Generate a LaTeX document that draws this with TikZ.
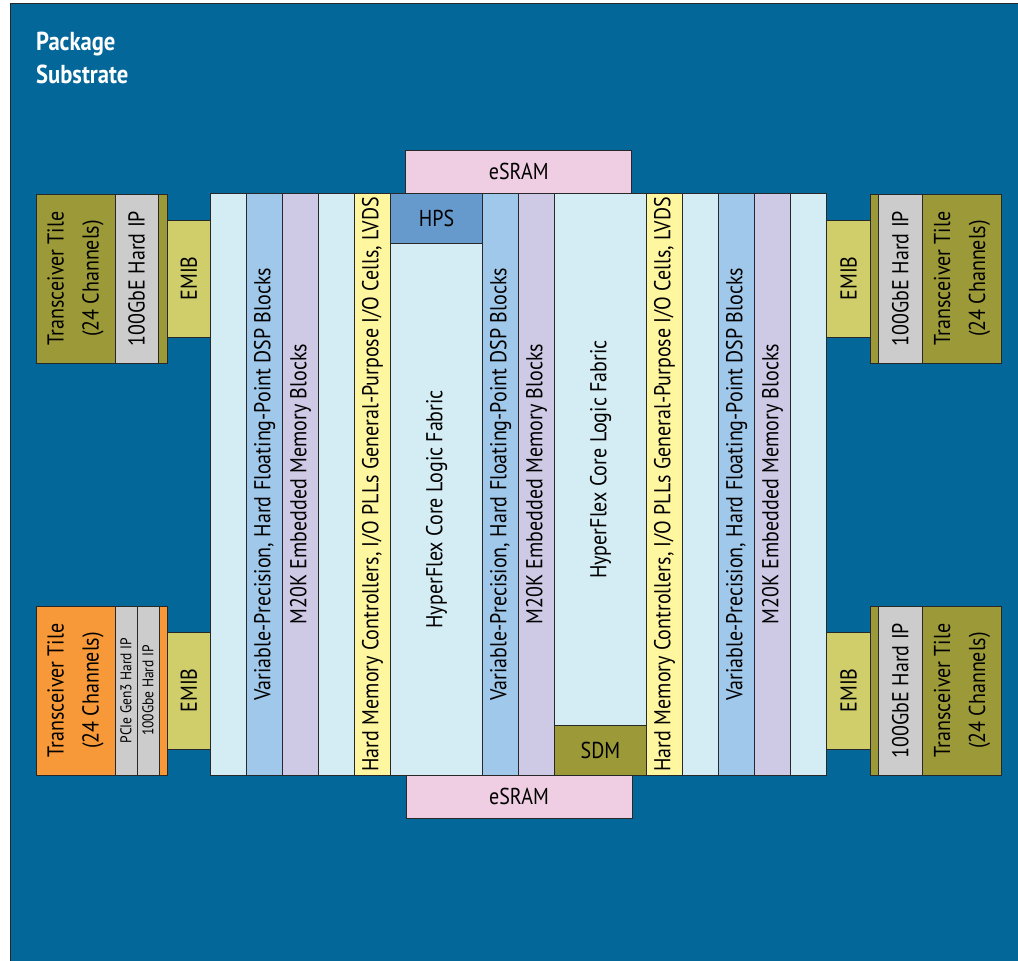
\documentclass[tikz,border=0pt]{standalone}
\usepackage{fontspec}
\setmainfont{PT Sans}[FakeStretch=0.87]
\usetikzlibrary{positioning,calc}
\definecolor{substrate}{RGB}{3,103,153}
\definecolor{edge}{RGB}{40,40,40}
\definecolor{olive}{RGB}{156,154,56}
\definecolor{emibc}{RGB}{207,206,106}
\definecolor{ipgray}{RGB}{204,204,204}
\definecolor{xcvr}{RGB}{247,153,56}
\definecolor{fabric}{RGB}{212,236,243}
\definecolor{dsp}{RGB}{160,200,234}
\definecolor{mem}{RGB}{206,202,230}
\definecolor{gpio}{RGB}{255,246,160}
\definecolor{hpsc}{RGB}{102,153,204}
\definecolor{esram}{RGB}{239,206,227}
\tikzset{
	blk/.style={draw=edge,line width=1pt,inner sep=0pt,outer sep=0pt,anchor=north west},
	col/.style={blk,minimum width=36pt,minimum height=581.5pt},
	wide/.style={col,minimum width=92pt},
	vtext/.style={rotate=90,align=center,inner sep=0pt,font=\fontsize{23}{35}\selectfont},
	htext/.style={inner sep=0pt,font=\fontsize{23}{35}\selectfont},
	tiny/.style={rotate=90,inner sep=0pt,font=\fontsize{15.5}{18}\selectfont},
	title/.style={align=left,inner sep=0pt,text=white,font=\fontsize{26}{33}\selectfont\bfseries}
}
\begin{document}
\begin{tikzpicture}[x=1pt,y=-1pt]
	\clip (0,0) rectangle (1018,961);
	\useasboundingbox (0,0) rectangle (1018,961);
	% substrate
	\node[blk,fill=substrate,minimum width=1030pt,minimum height=980pt] (sub) at (10,3.5) {};
	\node[title,anchor=north west] (pkg) at (36,31.5) {Package\\Substrate};
	% left tiles
	\node[blk,fill=olive,minimum width=131pt,minimum height=169pt] (xcvrA) at (36,194) {};
	\node[blk,fill=ipgray,minimum width=43pt,minimum height=169pt] (ipA) at (115,194) {};
	\node[blk,fill=emibc,minimum width=43.5pt,minimum height=117pt] (emibA) at (167,220) {};
	\node[vtext] (xcvrA-t) at (75.5,278.5) {Transceiver Tile\\(24 Channels)};
	\node[vtext] (ipA-t) at (ipA) {100GbE Hard IP};
	\node[vtext] (emibA-t) at (emibA) {EMIB};
	\node[blk,fill=xcvr,minimum width=131pt,minimum height=169pt] (xcvrB) at (36,606) {};
	\node[blk,fill=ipgray,minimum width=22pt,minimum height=169pt] (pcieB) at (115,606) {};
	\node[blk,fill=ipgray,minimum width=22pt,minimum height=169pt] (ipB) at (137,606) {};
	\node[blk,fill=emibc,minimum width=43.5pt,minimum height=117pt] (emibB) at (167,632) {};
	\node[vtext] (xcvrB-t) at (75.5,690.5) {Transceiver Tile\\(24 Channels)};
	\node[tiny] (pcieB-t) at (pcieB) {PCIe Gen3 Hard IP};
	\node[tiny] (ipB-t) at (ipB) {100Gbe Hard IP};
	\node[vtext] (emibB-t) at (emibB) {EMIB};
	% right tiles
	\node[blk,fill=olive,minimum width=131.5pt,minimum height=169pt] (xcvrC) at (870.3,194) {};
	\node[blk,fill=ipgray,minimum width=44pt,minimum height=169pt] (ipC) at (878.3,194) {};
	\node[blk,fill=emibc,minimum width=43.6pt,minimum height=117pt] (emibC) at (826.7,220) {};
	\node[vtext] (xcvrC-t) at (962,278.5) {Transceiver Tile\\(24 Channels)};
	\node[vtext] (ipC-t) at (ipC) {100GbE Hard IP};
	\node[vtext] (emibC-t) at (emibC) {EMIB};
	\node[blk,fill=olive,minimum width=131.5pt,minimum height=169pt] (xcvrD) at (870.3,606) {};
	\node[blk,fill=ipgray,minimum width=44pt,minimum height=169pt] (ipD) at (878.3,606) {};
	\node[blk,fill=emibc,minimum width=43.6pt,minimum height=117pt] (emibD) at (826.7,632) {};
	\node[vtext] (xcvrD-t) at (962,690.5) {Transceiver Tile\\(24 Channels)};
	\node[vtext] (ipD-t) at (ipD) {100GbE Hard IP};
	\node[vtext] (emibD-t) at (emibD) {EMIB};
	% core fabric columns
	\node[col,fill=fabric] (c1) at (210.5,193.5) {};
	\node[col,fill=dsp,right=0pt of c1] (c2) {};
	\node[col,fill=mem,right=0pt of c2] (c3) {};
	\node[col,fill=fabric,right=0pt of c3] (c4) {};
	\node[col,fill=gpio,right=0pt of c4] (c5) {};
	\node[wide,fill=fabric,right=0pt of c5] (c6) {};
	\node[col,fill=dsp,right=0pt of c6] (c7) {};
	\node[col,fill=mem,right=0pt of c7] (c8) {};
	\node[wide,fill=fabric,right=0pt of c8] (c9) {};
	\node[col,fill=gpio,right=0pt of c9] (c10) {};
	\node[col,fill=fabric,right=0pt of c10] (c11) {};
	\node[col,fill=dsp,right=0pt of c11] (c12) {};
	\node[col,fill=mem,right=0pt of c12] (c13) {};
	\node[col,fill=fabric,right=0pt of c13] (c14) {};
	\node[blk,fill=hpsc,minimum width=92pt,minimum height=50pt] (hps) at (c6.north west) {};
	\node[blk,fill=olive,minimum width=92pt,minimum height=49.3pt,anchor=south west] (sdm) at (c9.south west) {};
	\node[htext] (hps-t) at (hps) {HPS};
	\node[htext] (sdm-t) at (sdm) {SDM};
	\node[vtext] (c2-t) at (c2) {Variable-Precision, Hard Floating-Point DSP Blocks};
	\node[vtext] (c3-t) at (c3) {M20K Embedded Memory Blocks};
	\node[vtext] (c5-t) at (c5) {Hard Memory Controllers, I/O PLLs General-Purpose I/O Cells, LVDS};
	\node[vtext] (c6-t) at ($(hps.south)!.5!(c6.south)$) {HyperFlex Core Logic Fabric};
	\node[vtext] (c7-t) at (c7) {Variable-Precision, Hard Floating-Point DSP Blocks};
	\node[vtext] (c8-t) at (c8) {M20K Embedded Memory Blocks};
	\node[vtext] (c9-t) at ($(c9.north)!.5!(sdm.north)$) {HyperFlex Core Logic Fabric};
	\node[vtext] (c10-t) at (c10) {Hard Memory Controllers, I/O PLLs General-Purpose I/O Cells, LVDS};
	\node[vtext] (c12-t) at (c12) {Variable-Precision, Hard Floating-Point DSP Blocks};
	\node[vtext] (c13-t) at (c13) {M20K Embedded Memory Blocks};
	% eSRAM
	\node[blk,fill=esram,minimum width=226pt,minimum height=43.5pt] (esramT) at (405.7,150) {};
	\node[blk,fill=esram,minimum width=226pt,minimum height=43.7pt] (esramB) at (406,775) {};
	\node[htext] (esramT-t) at (esramT) {eSRAM};
	\node[htext] (esramB-t) at (esramB) {eSRAM};
\end{tikzpicture}
\end{document}
